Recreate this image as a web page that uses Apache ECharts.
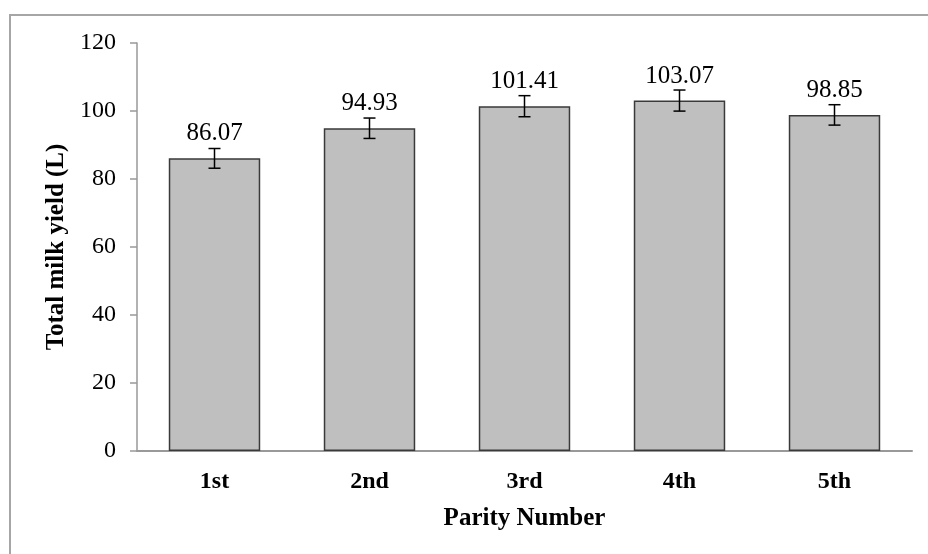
<!DOCTYPE html>
<html>
<head>
<meta charset="utf-8">
<script src="https://cdn.jsdelivr.net/npm/echarts@6/dist/echarts.min.js"></script>
<style>
  html, body { margin: 0; padding: 0; background: #fff; }
  #chart { width: 928px; height: 554px; }
</style>
</head>
<body>
<div id="chart"></div>
<script>
const parities = ['1st', '2nd', '3rd', '4th', '5th'];
const milkYield = [86.07, 94.93, 101.41, 103.07, 98.85];
const yieldErr = [2.9, 3.0, 3.1, 3.1, 3.0];

const chart = echarts.init(document.getElementById('chart'));

const serif = '"Liberation Serif", "Times New Roman", serif';

chart.setOption({
    animation: false,
    graphic: [{
        type: 'rect',
        shape: { x: 10, y: 15, width: 930, height: 560 },
        style: { fill: 'none', stroke: '#a6a6a6', lineWidth: 2 },
        silent: true
    }],
    grid: { left: 137, right: 16, top: 43, bottom: 103 },
    xAxis: {
        type: 'category',
        data: parities,
        name: 'Parity Number',
        nameLocation: 'middle',
        nameGap: 55,
        nameTextStyle: { fontFamily: serif, fontWeight: 'bold', fontSize: 25, color: '#000' },
        axisLine: { lineStyle: { color: '#999', width: 2 } },
        axisTick: { show: false },
        axisLabel: { fontFamily: serif, fontWeight: 'bold', fontSize: 24, color: '#000', margin: 19 }
    },
    yAxis: {
        type: 'value',
        min: 0,
        max: 120,
        interval: 20,
        name: 'Total milk yield (L)',
        nameLocation: 'middle',
        nameGap: 65,
        nameTextStyle: { fontFamily: serif, fontWeight: 'bold', fontSize: 25, color: '#000' },
        axisLine: { show: true, lineStyle: { color: '#999', width: 1.5 } },
        axisTick: { show: true, length: 7, lineStyle: { color: '#999', width: 1.5 } },
        splitLine: { show: false },
        axisLabel: { fontFamily: serif, fontSize: 24, color: '#000', margin: 21 }
    },
    series: [
        {
            type: 'bar',
            data: milkYield,
            barWidth: '59%',
            itemStyle: { color: '#bfbfbf', borderColor: '#3a3a3a', borderWidth: 1.5 },
            label: {
                show: true,
                position: 'top',
                distance: 12,
                fontFamily: serif,
                fontSize: 25,
                color: '#000',
                formatter: p => p.value.toFixed(2)
            },
            z: 2
        },
        {
            type: 'custom',
            data: milkYield.map((v, i) => [i, v - yieldErr[i], v + yieldErr[i]]),
            renderItem: function (params, api) {
                const lo = api.coord([api.value(0), api.value(1)]);
                const hi = api.coord([api.value(0), api.value(2)]);
                const half = 6;
                const style = { stroke: '#000', lineWidth: 1.5 };
                return {
                    type: 'group',
                    children: [
                        { type: 'line', shape: { x1: lo[0], y1: lo[1], x2: hi[0], y2: hi[1] }, style },
                        { type: 'line', shape: { x1: hi[0] - half, y1: hi[1], x2: hi[0] + half, y2: hi[1] }, style },
                        { type: 'line', shape: { x1: lo[0] - half, y1: lo[1], x2: lo[0] + half, y2: lo[1] }, style }
                    ]
                };
            },
            z: 3
        }
    ]
});

window.addEventListener('resize', () => chart.resize());
</script>
</body>
</html>
